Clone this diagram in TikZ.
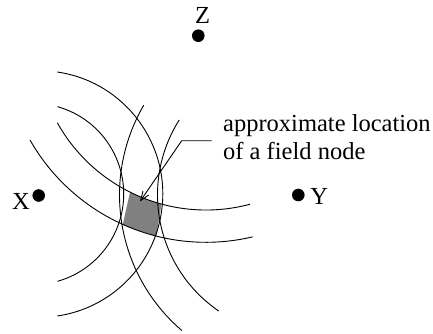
\documentclass[tikz,border=0pt]{standalone}
\usepackage{fontspec}
\setmainfont{Liberation Serif}
\usetikzlibrary{arrows.meta}
\begin{document}
\begin{tikzpicture}[x=1pt,y=1pt,
  arcline/.style={line width=0.9pt,black},
  anchordot/.style={circle,fill=black,inner sep=0pt,minimum size=12.6pt},
  lbl/.style={inner sep=0pt,anchor=base,font=\fontsize{24.5}{28.3}\selectfont},
  note/.style={inner sep=0pt,anchor=base west,font=\fontsize{24.5}{28.3}\selectfont},
  pointer/.style={line width=0.9pt,-{Straight Barb[length=9pt,width=7pt]}}]
\useasboundingbox (0,0) rectangle (433,333);
% centres of the arcs
\coordinate (XcI) at (33,139);
\coordinate (XcO) at (39.5,139);
\coordinate (Yc) at (298,138);
\coordinate (Zc) at (206,293.3);
% shaded region
\fill[black!50] ([shift={(Zc)}]243.5:170.3) arc[start angle=243.5,end angle=254.85,radius=170.3]
  -- ([shift={(Zc)}]255.8:202.6) arc[start angle=255.8,end angle=245.75,radius=202.6] -- cycle;
% X band
\draw[arcline] ([shift={(XcI)}]74.4:90.7) arc[start angle=74.4,end angle=-74.4,radius=90.7];
\draw[arcline] ([shift={(XcO)}]81.7:123.3) arc[start angle=81.7,end angle=-81.7,radius=123.3];
% Y band
\draw[arcline] ([shift={(Yc)}]149.8:178.5) arc[start angle=149.8,end angle=229.4,radius=178.5];
\draw[arcline] ([shift={(Yc)}]147.7:140.5) arc[start angle=147.7,end angle=235.7,radius=140.5];
% Z band
\draw[arcline] ([shift={(Zc)}]209.2:170.3) arc[start angle=209.2,end angle=285,radius=170.3];
\draw[arcline] ([shift={(Zc)}]209.7:202.6) arc[start angle=209.7,end angle=283.3,radius=202.6];
% anchors
\node[anchordot] (Xd) at (38.7,137.5) {};
\node[anchordot] (Yd) at (298.3,138) {};
\node[anchordot] (Zd) at (198.3,297.3) {};
\node[lbl] (Xl) at (20.85,124) {X};
\node[lbl] (Yl) at (319.2,129) {Y};
\node[lbl] (Zl) at (202.5,309) {Z};
% note
\node[note] (n1) at (223,202) {approximate location};
\node[note] (n2) at (223,173.7) {of a field node};
\coordinate (p0) at (211.7,192.3);
\coordinate (p1) at (181.7,192.3);
\coordinate (tip) at (140,131.5);
\draw[pointer] (p0) -- (p1) -- (tip);
\end{tikzpicture}
\end{document}
